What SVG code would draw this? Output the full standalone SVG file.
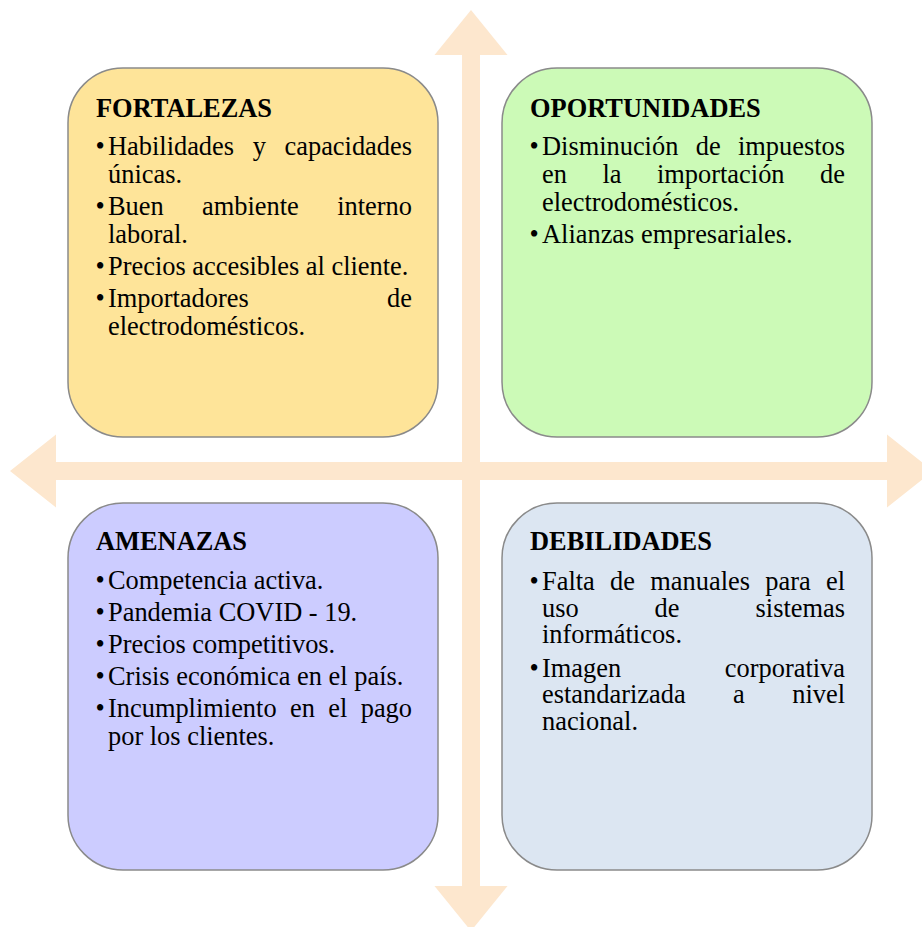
<svg xmlns="http://www.w3.org/2000/svg" width="922" height="927" viewBox="0 0 922 927">
  <style>
    .axis { fill: #FDE7CE; }
    .box { stroke: #8a8a8a; stroke-width: 1.5; }
    .fort { fill: #FEE499; }
    .opor { fill: #CCFAB7; }
    .amen { fill: #CCCCFF; }
    .debi { fill: #DCE6F2; }
    text { font-family: "Liberation Serif", "Times New Roman", serif; font-size: 26.4px; fill: #000; }
    .title { font-weight: bold; }
    .end { text-anchor: end; }
  </style>
  <rect width="922" height="927" fill="#ffffff"/>

  <!-- axes: two double-headed arrows crossing in the middle -->
  <g id="connectors">
    <polygon class="axis" points="10,471 56,434.5 56,462 887,462 887,434.5 933,471 887,507.5 887,480 56,480 56,507.5"/>
    <polygon class="axis" points="471,10 507.5,55 480,55 480,886 507.5,886 471,931 434.5,886 462,886 462,55 434.5,55"/>
  </g>

  <!-- top-left quadrant -->
  <g id="fortalezas">
    <rect class="box fort" x="68" y="68" width="370" height="369" rx="55" ry="55"/>
    <text class="title" x="96" y="117">FORTALEZAS</text>
    <text x="95.5" y="155">•</text>
    <text x="108" y="155">Habilidades</text>
    <text x="252.7" y="155">y</text>
    <text class="end" x="412" y="155">capacidades</text>
    <text x="108" y="183">únicas.</text>
    <text x="95.5" y="215">•</text>
    <text x="108" y="215">Buen</text>
    <text x="202.1" y="215">ambiente</text>
    <text class="end" x="412" y="215">interno</text>
    <text x="108" y="243">laboral.</text>
    <text x="95.5" y="275">•</text>
    <text x="108" y="275">Precios accesibles al cliente.</text>
    <text x="95.5" y="307">•</text>
    <text x="108" y="307">Importadores</text>
    <text class="end" x="412" y="307">de</text>
    <text x="108" y="335">electrodomésticos.</text>
  </g>

  <!-- top-right quadrant -->
  <g id="oportunidades">
    <rect class="box opor" x="502" y="68" width="370" height="369" rx="55" ry="55"/>
    <text class="title" x="530" y="117">OPORTUNIDADES</text>
    <text x="529.5" y="155">•</text>
    <text x="542" y="155">Disminución</text>
    <text x="695.7" y="155">de</text>
    <text class="end" x="845" y="155">impuestos</text>
    <text x="542" y="183">en</text>
    <text x="602.4" y="183">la</text>
    <text x="657" y="183">importación</text>
    <text class="end" x="845" y="183">de</text>
    <text x="542" y="211">electrodomésticos.</text>
    <text x="529.5" y="243">•</text>
    <text x="542" y="243">Alianzas empresariales.</text>
  </g>

  <!-- bottom-left quadrant -->
  <g id="amenazas">
    <rect class="box amen" x="68" y="503" width="370" height="367" rx="55" ry="55"/>
    <text class="title" x="96" y="550">AMENAZAS</text>
    <text x="95.5" y="589">•</text>
    <text x="108" y="589">Competencia activa.</text>
    <text x="95.5" y="621">•</text>
    <text x="108" y="621">Pandemia COVID - 19.</text>
    <text x="95.5" y="653">•</text>
    <text x="108" y="653">Precios competitivos.</text>
    <text x="95.5" y="685">•</text>
    <text x="108" y="685">Crisis económica en el país.</text>
    <text x="95.5" y="717">•</text>
    <text x="108" y="717">Incumplimiento</text>
    <text x="290" y="717">en</text>
    <text x="328.2" y="717">el</text>
    <text class="end" x="412" y="717">pago</text>
    <text x="108" y="745">por los clientes.</text>
  </g>

  <!-- bottom-right quadrant -->
  <g id="debilidades">
    <rect class="box debi" x="502" y="503" width="370" height="367" rx="55" ry="55"/>
    <text class="title" x="530" y="550">DEBILIDADES</text>
    <text x="529.5" y="590">•</text>
    <text x="542" y="590">Falta</text>
    <text x="610.1" y="590">de</text>
    <text x="650.3" y="590">manuales</text>
    <text x="765.3" y="590">para</text>
    <text class="end" x="845" y="590">el</text>
    <text x="542" y="617">uso</text>
    <text x="654.6" y="617">de</text>
    <text class="end" x="845" y="617">sistemas</text>
    <text x="542" y="643">informáticos.</text>
    <text x="529.5" y="677">•</text>
    <text x="542" y="677">Imagen</text>
    <text class="end" x="845" y="677">corporativa</text>
    <text x="542" y="703">estandarizada</text>
    <text x="733.1" y="703">a</text>
    <text class="end" x="845" y="703">nivel</text>
    <text x="542" y="730">nacional.</text>
  </g>
</svg>
